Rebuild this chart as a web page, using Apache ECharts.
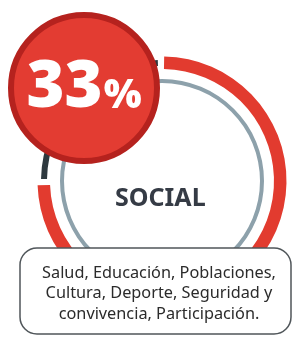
<!DOCTYPE html>
<html>
<head>
<meta charset="utf-8">
<script src="https://cdn.jsdelivr.net/npm/echarts@6/dist/echarts.min.js"></script>
<style>
  html, body { margin: 0; padding: 0; background: #fff; }
  #chart { width: 294px; height: 339px; }
</style>
</head>
<body>
<div id="chart"></div>
<script>
// datos del gráfico
const percentValue = 33;
const sectorName = "SOCIAL";
const arcNames = ["social", "gap1", "resto", "gap2"];
const arcValues = [267, 3, 87, 3]; // grados del anillo exterior
const descLines = [
  "Salud, Educación, Poblaciones,",
  "Cultura, Deporte, Seguridad y",
  "convivencia, Participación."
];

const RED = "#e23b2f";
const DARK = "#2e393f";
const GRAY = "#8da1ab";

const myChart = echarts.init(document.getElementById("chart"));

const arcColors = [RED, "transparent", DARK, "transparent"];
const outerData = arcNames.map((name, i) => ({
  name,
  value: arcValues[i],
  itemStyle: { color: arcColors[i] }
}));

const option = {
  animation: false,
  series: [
    {
      // anillo gris
      type: "pie",
      silent: true,
      center: [162, 181],
      radius: [98, 102],
      label: { show: false },
      data: [{ value: 1, itemStyle: { color: GRAY } }],
      z: 1
    },
    {
      // anillo rojo
      type: "pie",
      silent: true,
      center: [162, 181],
      radius: [112, 124.5],
      startAngle: 89,
      clockwise: true,
      label: { show: false },
      data: outerData.map((d, i) => (i === 2 ? { ...d, itemStyle: { color: "transparent" } } : d)),
      z: 2
    },
    {
      // tramo oscuro, más fino
      type: "pie",
      silent: true,
      center: [162, 181],
      radius: [115, 121],
      startAngle: 89,
      clockwise: true,
      label: { show: false },
      data: outerData.map((d, i) => (i === 0 ? { ...d, itemStyle: { color: "transparent" } } : d)),
      z: 2
    },
    {
      // círculo del porcentaje
      type: "pie",
      silent: true,
      center: [84, 88],
      radius: [0, 73],
      itemStyle: { color: "#e33c32", borderColor: "#b5221e", borderWidth: 6 },
      label: {
        show: true,
        position: "center",
        formatter: () => `{n|${percentValue}}{p|%}`,
        rich: {
          n: { fontFamily: "Noto Sans", fontWeight: 900, fontSize: 65, color: "#fff", verticalAlign: "bottom" },
          p: { fontFamily: "Noto Sans", fontWeight: 900, fontSize: 40, color: "#fff", verticalAlign: "bottom", padding: [0, 0, 4, 1] }
        }
      },
      labelLine: { show: false },
      data: [{ value: 1, name: "pct" }],
      z: 5
    }
  ],
  graphic: [
    {
      type: "text",
      left: 162 - 47,
      top: 186,
      style: {
        text: sectorName,
        fontFamily: "Noto Sans",
        fontWeight: "bold",
        fontSize: 25,
        fill: "#353b45"
      },
      z: 10
    },
    {
      type: "rect",
      shape: { x: 20, y: 248, width: 271, height: 86, r: 17 },
      style: { fill: "#fff", stroke: "#50565a", lineWidth: 1.5 },
      z: 10
    },
    {
      type: "text",
      x: 159,
      y: 263,
      style: {
        text: descLines.join("\n"),
        fontFamily: "Noto Sans",
        fontSize: 16.3,
        lineHeight: 20.5,
        align: "center",
        fill: "#2b2b2b"
      },
      z: 11
    }
  ]
};

myChart.setOption(option);
</script>
</body>
</html>
